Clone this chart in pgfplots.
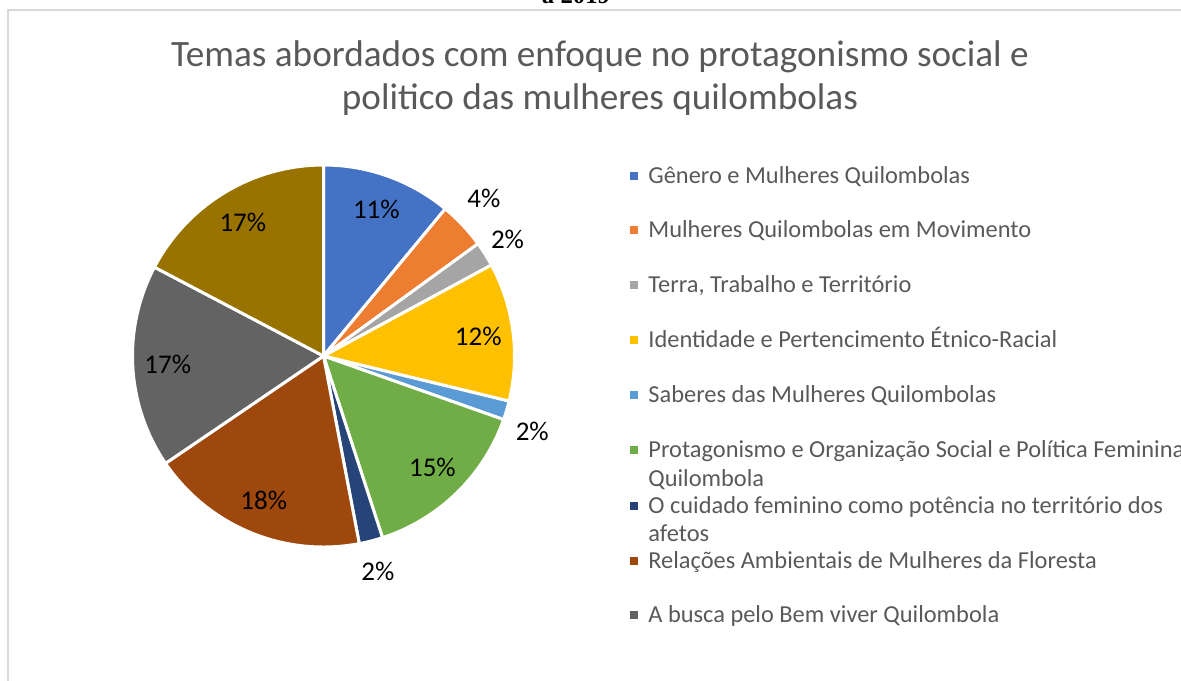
\documentclass[border=0pt]{standalone}
\usepackage{pgfplots}
\usepackage{pgfplotstable}
\pgfplotsset{compat=1.18}
\usepackage{fontspec}
\setmainfont{Carlito}
\newfontfamily\serifbold{Liberation Serif}
\definecolor{c1}{HTML}{4472C4}
\definecolor{c2}{HTML}{ED7D31}
\definecolor{c3}{HTML}{A5A5A5}
\definecolor{c4}{HTML}{FFC000}
\definecolor{c5}{HTML}{5B9BD5}
\definecolor{c6}{HTML}{70AD47}
\definecolor{c7}{HTML}{264478}
\definecolor{c8}{HTML}{9E480E}
\definecolor{c9}{HTML}{636363}
\definecolor{c10}{HTML}{997300}
\definecolor{txtgray}{HTML}{595959}
\definecolor{bordergray}{HTML}{D9D9D9}
\newcommand\labelfont{\fontsize{13.5}{16}\selectfont}
\newcommand\legfont{\fontsize{12.2}{14.5}\selectfont}
\newcommand\titlefont{\fontsize{18.6}{22}\selectfont}

% share (percent), colour, label radius (px), label angle offset (deg), label
\pgfplotstableread{
val col rad off lab
11.0 c1  156  0.0 11
4.0  c2  225  1.3 4
2.1  c3  218  0.2 2
11.7 c4  156  0.0 12
1.6  c5  222 -3.3 2
14.6 c6  156  0.0 15
2.0  c7  222 -0.2 2
18.5 c8  156  0.0 18
17.2 c9  156  0.0 17
17.3 c10 156  0.0 17
}\piedata

\begin{document}
\begin{tikzpicture}
\path[use as bounding box, clip] (0,0) rectangle (590.5pt,340pt);
\begin{axis}[
  at={(0,0)}, anchor=south west,
  scale only axis, width=590.5pt, height=340pt,
  xmin=0, xmax=1181, ymin=0, ymax=680, y dir=reverse,
  axis lines=none, ticks=none, clip=false,
]
% frame
\draw[bordergray, line width=1pt] (axis cs:7.5,690) -- (axis cs:7.5,9.5) -- (axis cs:1190,9.5);
\node[font=\serifbold\bfseries\fontsize{12.4}{14}\selectfont, anchor=base] at (axis cs:576,3.5) {a 2019};
% title
\node[font=\titlefont, text=txtgray, anchor=base] at (axis cs:600,66) {Temas abordados com enfoque no protagonismo social e};
\node[font=\titlefont, text=txtgray, anchor=base] at (axis cs:600,109) {politico das mulheres quilombolas};
% pie
\xdef\piecum{0}
\foreach \pieidx in {0,...,9} {
  \pgfplotstablegetelem{\pieidx}{val}\of\piedata \let\pieval\pgfplotsretval
  \pgfplotstablegetelem{\pieidx}{col}\of\piedata \let\piecol\pgfplotsretval
  \pgfplotstablegetelem{\pieidx}{rad}\of\piedata \let\pierad\pgfplotsretval
  \pgfplotstablegetelem{\pieidx}{off}\of\piedata \let\pieoff\pgfplotsretval
  \pgfplotstablegetelem{\pieidx}{lab}\of\piedata \let\pielab\pgfplotsretval
  \pgfmathsetmacro\piestart{90-3.6*\piecum}
  \pgfmathsetmacro\pieend{90-3.6*(\piecum+\pieval)}
  \pgfmathsetmacro\piemid{(\piestart+\pieend)/2+\pieoff}
  \pgfmathsetmacro\pielx{323.5+\pierad*cos(\piemid)}
  \pgfmathsetmacro\piely{356-\pierad*sin(\piemid)}
  \edef\pietemp{%
    \noexpand\fill[fill=\piecol, draw=white, line width=1.5pt, line join=round]
      (axis cs:323.5,356) -- ++(\piestart:95.5pt)
      arc[start angle=\piestart, end angle=\pieend, radius=95.5pt] -- cycle;
    \noexpand\node[font=\noexpand\labelfont, text=black] at (axis cs:\pielx,\piely) {\pielab\noexpand\%};
  }
  \pietemp
  \pgfmathsetmacro\pienewcum{\piecum+\pieval}
  \xdef\piecum{\pienewcum}
}
% legend
\foreach \yc/\col/\txt in {
  176/c1/{Gênero e Mulheres Quilombolas},
  230/c2/{Mulheres Quilombolas em Movimento},
  285/c3/{Terra, Trabalho e Território},
  340/c4/{Identidade e Pertencimento Étnico-Racial},
  395/c5/{Saberes das Mulheres Quilombolas},
  450/c6/{Protagonismo e Organização Social e Política Feminina},
  506/c7/{O cuidado feminino como potência no território dos},
  561/c8/{Relações Ambientais de Mulheres da Floresta},
  615/c9/{A busca pelo Bem viver Quilombola}} {
  \pgfmathsetmacro\ya{\yc-4.3}
  \pgfmathsetmacro\yb{\yc+4.3}
  \pgfmathsetmacro\ybase{\yc+7.9}
  \edef\legtemp{%
    \noexpand\fill[\col] (axis cs:629.5,\ya) rectangle (axis cs:638,\yb);
    \noexpand\node[font=\noexpand\legfont, text=txtgray, anchor=base west, inner sep=0pt] at (axis cs:648,\ybase) {\unexpanded\expandafter{\txt}};
  }
  \legtemp
}
\node[font=\legfont, text=txtgray, anchor=base west, inner sep=0pt] at (axis cs:648,486.9) {Quilombola};
\node[font=\legfont, text=txtgray, anchor=base west, inner sep=0pt] at (axis cs:648,541.9) {afetos};
\end{axis}
\end{tikzpicture}
\end{document}
